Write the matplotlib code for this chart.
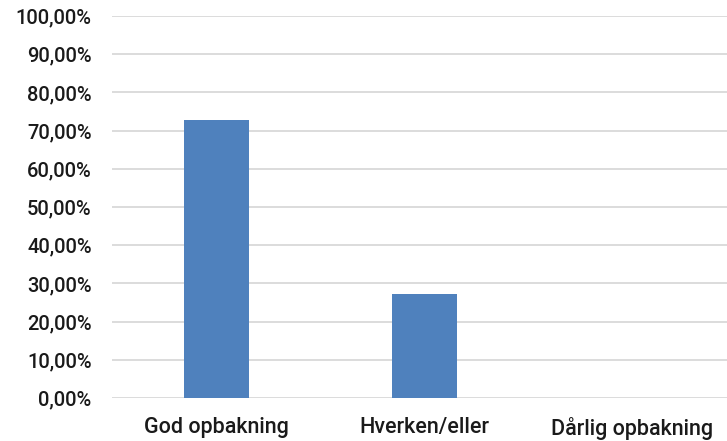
import matplotlib.pyplot as plt
from matplotlib.ticker import FuncFormatter

categories = ["God opbakning", "Hverken/eller", "Dårlig opbakning"]
values = [72.73, 27.27, 0.0]
y_ticks = [0, 10, 20, 30, 40, 50, 60, 70, 80, 90, 100]

plt.rcParams["font.family"] = ["Roboto", "DejaVu Sans"]

fig = plt.figure(figsize=(7.27, 4.41), dpi=100)
ax = fig.add_axes([0.1547, 0.0975, 0.858, 0.8662])

x = list(range(len(categories)))
ax.bar(x, values, width=0.3125, color="#4f81bd", zorder=3)

ax.set_xlim(-0.5, len(categories) - 0.5)
ax.set_ylim(0, 100)
ax.set_yticks(y_ticks)
ax.yaxis.set_major_formatter(FuncFormatter(lambda v, p: f"{v:.2f}".replace(".", ",") + "%"))
ax.set_xticks(x)
ax.set_xticklabels(categories)

for lbl in ax.get_yticklabels():
    lbl.set_fontsize(14.5)
    lbl.set_fontweight("medium")
    lbl.set_color("#1a1a1a")
for lbl in ax.get_xticklabels():
    lbl.set_fontsize(15.5)
    lbl.set_fontweight("medium")
    lbl.set_color("#1a1a1a")

ax.grid(axis="y", color="#d9d9d9", linewidth=1.3, zorder=0)
ax.tick_params(length=0)
ax.tick_params(axis="y", pad=15)
ax.tick_params(axis="x", pad=14)
for s in ax.spines.values():
    s.set_visible(False)

fig.savefig("out.png", dpi=100)
